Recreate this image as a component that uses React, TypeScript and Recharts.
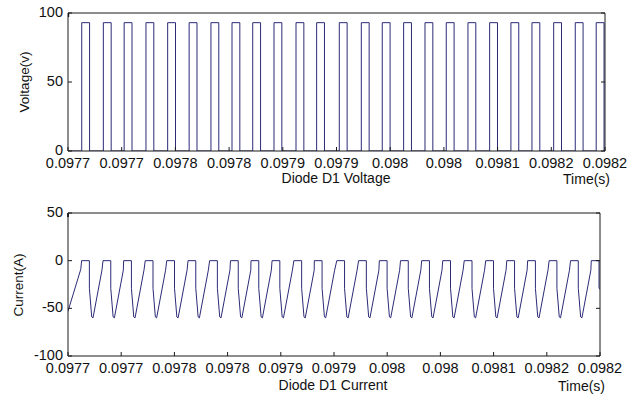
import React from 'react';
import { LineChart, Line, XAxis, YAxis } from 'recharts';

// time axis (s)
const xDomain = [0.0977, 0.0982];
const xTicks = [0.0977, 0.09775, 0.0978, 0.09785, 0.0979, 0.09795, 0.098, 0.09805, 0.0981, 0.09815, 0.0982];
const xTickLabels = ['0.0977', '0.0977', '0.0978', '0.0978', '0.0979', '0.0979', '0.098', '0.098', '0.0981', '0.0982', '0.0982'];

const voltTicks = [0, 50, 100];
const currTicks = [-100, -50, 0, 50];

// diode voltage pulses: rise / fall instants
const pulseRise = [
  0.0977128, 0.0977329, 0.0977523, 0.0977726, 0.0977928, 0.0978128, 0.0978331, 0.0978527, 0.097872,
  0.0978918, 0.0979123, 0.0979315, 0.0979526, 0.0979731, 0.0979926, 0.0980125, 0.0980324, 0.0980522,
  0.0980724, 0.0980926, 0.0981124, 0.098132, 0.0981522, 0.0981723, 0.0981918,
];
const pulseFall = [
  0.0977201, 0.0977402, 0.0977596, 0.0977799, 0.0978001, 0.0978201, 0.0978404, 0.09786, 0.0978793,
  0.0978991, 0.0979196, 0.0979388, 0.0979599, 0.0979804, 0.0979999, 0.0980198, 0.0980397, 0.0980595,
  0.0980797, 0.0980999, 0.0981197, 0.0981393, 0.0981595, 0.0981796, 0.0981991,
];
const pulseLevel = 93;

// diode current, one switching cycle (offset from pulse rise in s, current in A)
const cycleOffset = [0, 0.0000073, 0.0000073, 0.0000095, 0.0000107, 0.0000191];
const cycleCurrent = [0, 0, -29, -59, -60, -10];
const currentStart = [
  { t: 0.0977, v: -53 },
  { t: 0.097712, v: -9 },
];
const currentEnd = [{ t: 0.0982, v: -30 }];

const voltageData: { t: number; v: number }[] = [{ t: xDomain[0], v: 0 }];
pulseRise.forEach((r, i) => {
  voltageData.push({ t: r, v: 0 }, { t: r, v: pulseLevel }, { t: pulseFall[i], v: pulseLevel }, { t: pulseFall[i], v: 0 });
});
voltageData.push({ t: xDomain[1], v: 0 });

const currentData: { t: number; v: number }[] = [...currentStart];
pulseRise.forEach((r, i) => {
  const last = i === pulseRise.length - 1;
  cycleOffset.forEach((o, k) => {
    if (last && k > 2) return;
    currentData.push({ t: r + o, v: cycleCurrent[k] });
  });
});
currentData.push(...currentEnd);

const FONT = '"Liberation Sans", Arial, Helvetica, sans-serif';
const LINE = '#2b2b78';
const AXIS = '#1a1a1a';
const TEXT = '#111';
const TICK = 4;

const nearestIdx = (arr: number[], v: number) => {
  let best = 0;
  arr.forEach((a, i) => {
    if (Math.abs(a - v) < Math.abs(arr[best] - v)) best = i;
  });
  return best;
};

const BottomTick = (props: any) => {
  const { x, y, payload } = props;
  return (
    <g>
      <line x1={x} y1={y} x2={x} y2={y - TICK} stroke={AXIS} />
      <text x={x} y={y + 17} textAnchor="middle" fontSize={14.5} fill={TEXT} fontFamily={FONT}>
        {xTickLabels[nearestIdx(xTicks, payload.value)]}
      </text>
    </g>
  );
};

const TopTick = (props: any) => {
  const { x, y } = props;
  return <line x1={x} y1={y} x2={x} y2={y + TICK} stroke={AXIS} />;
};

const LeftTick = (props: any) => {
  const { x, y, payload } = props;
  return (
    <g>
      <line x1={x} y1={y} x2={x + TICK} y2={y} stroke={AXIS} />
      <text x={x - 5} y={y + 4} textAnchor="end" fontSize={14.5} fill={TEXT} fontFamily={FONT}>
        {payload.value}
      </text>
    </g>
  );
};

const RightTick = (props: any) => {
  const { x, y } = props;
  return <line x1={x} y1={y} x2={x - TICK} y2={y} stroke={AXIS} />;
};

const label = (text: string, left: number, top: number, size = 14, anchor = 'center') => (
  <div
    style={{
      position: 'absolute',
      left,
      top,
      transform: anchor === 'right' ? 'translate(-100%, -50%)' : 'translate(-50%, -50%)',
      fontFamily: FONT,
      fontSize: size,
      lineHeight: '14px',
      color: TEXT,
      whiteSpace: 'nowrap',
    }}
  >
    {text}
  </div>
);

const vLabel = (text: string, left: number, top: number) => (
  <div
    style={{
      position: 'absolute',
      left,
      top,
      transform: 'translate(-50%, -50%) rotate(-90deg)',
      fontFamily: FONT,
      fontSize: 13.5,
      lineHeight: '16px',
      color: TEXT,
      whiteSpace: 'nowrap',
    }}
  >
    {text}
  </div>
);

// plot box edges in chart pixels: left / top / right / bottom
function Panel({
  data,
  width,
  height,
  box,
  yDomain,
  yTicks,
}: {
  data: { t: number; v: number }[];
  width: number;
  height: number;
  box: { left: number; top: number; right: number; bottom: number };
  yDomain: number[];
  yTicks: number[];
}) {
  return (
    <LineChart width={width} height={height} data={data} margin={{ top: 0, right: 0, bottom: 0, left: 0 }}>
      <XAxis
        dataKey="t"
        type="number"
        domain={xDomain}
        ticks={xTicks}
        interval={0}
        allowDataOverflow
        height={height - box.bottom}
        tickSize={0}
        tickMargin={0}
        tickLine={false}
        tick={<BottomTick />}
        axisLine={{ stroke: AXIS }}
      />
      <XAxis
        xAxisId="top"
        orientation="top"
        type="number"
        domain={xDomain}
        ticks={xTicks}
        interval={0}
        allowDataOverflow
        height={box.top}
        tickSize={0}
        tickMargin={0}
        tickLine={false}
        tick={<TopTick />}
        axisLine={{ stroke: AXIS }}
      />
      <YAxis
        type="number"
        domain={yDomain}
        ticks={yTicks}
        interval={0}
        allowDataOverflow
        width={box.left}
        tickSize={0}
        tickMargin={0}
        tickLine={false}
        tick={<LeftTick />}
        axisLine={{ stroke: AXIS }}
      />
      <YAxis
        yAxisId="right"
        orientation="right"
        type="number"
        domain={yDomain}
        ticks={yTicks}
        interval={0}
        allowDataOverflow
        width={width - box.right}
        tickSize={0}
        tickMargin={0}
        tickLine={false}
        tick={<RightTick />}
        axisLine={{ stroke: AXIS }}
      />
      <Line
        type="linear"
        dataKey="v"
        stroke={LINE}
        strokeWidth={1}
        dot={false}
        activeDot={false}
        isAnimationActive={false}
      />
    </LineChart>
  );
}

export default function App() {
  return (
    <div style={{ position: 'absolute', left: 0, top: 0, width: 637, height: 399, background: '#fff', overflow: 'hidden' }}>
      <div style={{ position: 'absolute', left: 0, top: 0 }}>
        <Panel
          data={voltageData}
          width={637}
          height={195}
          box={{ left: 68, top: 13, right: 605, bottom: 151 }}
          yDomain={[0, 100]}
          yTicks={voltTicks}
        />
      </div>
      <div style={{ position: 'absolute', left: 0, top: 195 }}>
        <Panel
          data={currentData}
          width={637}
          height={204}
          box={{ left: 68, top: 18, right: 600, bottom: 161 }}
          yDomain={[-100, 50]}
          yTicks={currTicks}
        />
      </div>
      {vLabel('Voltage(v)', 25, 82)}
      {label('Diode D1 Voltage', 336, 178)}
      {label('Time(s)', 610, 179, 14, 'right')}
      {vLabel('Current(A)', 19, 285)}
      {label('Diode D1 Current', 333, 385)}
      {label('Time(s)', 605, 386, 14, 'right')}
    </div>
  );
}
